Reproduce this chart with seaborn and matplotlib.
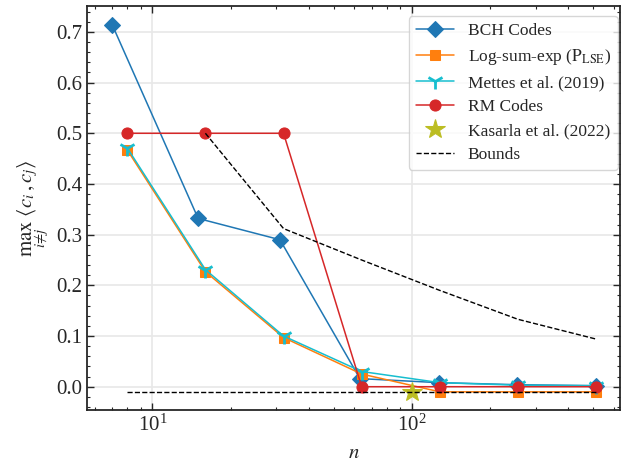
import matplotlib
matplotlib.use("Agg")
import matplotlib.pyplot as plt
import seaborn as sns
from matplotlib.ticker import AutoMinorLocator

# --- data ---
n_bch = [7, 15, 31, 63, 127, 255, 511]
bch = [0.714, 0.332, 0.290, 0.016, 0.008, 0.004, 0.002]

n_pow2 = [8, 16, 32, 64, 128, 256, 512]
lse = [0.467, 0.227, 0.097, 0.025, -0.0101, -0.0101, -0.0101]
mettes = [0.471, 0.231, 0.100, 0.030, 0.008, 0.003, 0.002]
rm = [0.5, 0.5, 0.5, 0.0, 0.0, 0.0, 0.0]

n_kasarla = [100]
kasarla = [-0.0101]

n_upper = [16, 32, 64, 128, 256, 512]
upper_bound = [0.5, 0.312, 0.25, 0.19, 0.133, 0.094]
n_lower = [8, 512]
lower_bound = [-0.0101, -0.0101]

sns.set_theme(style="ticks")
plt.rcParams["font.family"] = ["Liberation Serif", "DejaVu Serif"]
plt.rcParams["mathtext.fontset"] = "stix"
plt.rcParams["font.size"] = 14
plt.rcParams["xtick.direction"] = "in"
plt.rcParams["ytick.direction"] = "in"
plt.rcParams["xtick.top"] = True
plt.rcParams["ytick.right"] = True
plt.rcParams["xtick.minor.visible"] = True
plt.rcParams["ytick.minor.visible"] = True

fig, ax = plt.subplots(figsize=(6.22, 4.67), dpi=100)
fig.subplots_adjust(left=0.14, right=0.997, bottom=0.122, top=0.987)

lw = 1.1
sns.lineplot(x=n_bch, y=bch, marker="D", markersize=8, color="#1f77b4",
             markeredgecolor="#1f77b4", lw=lw, label="BCH Codes", ax=ax)
sns.lineplot(x=n_pow2, y=lse, marker="s", markersize=7, color="#ff7f0e",
             markeredgecolor="#ff7f0e", lw=lw,
             label=r"Log-sum-exp ($\mathrm{P}_{\mathrm{LSE}}$)", ax=ax)
sns.lineplot(x=n_pow2, y=mettes, marker="1", markersize=12, color="#17becf",
             markeredgecolor="#17becf", markeredgewidth=2, lw=lw,
             label="Mettes et al. (2019)", ax=ax)
sns.lineplot(x=n_pow2, y=rm, marker="o", markersize=8, color="#d62728",
             markeredgecolor="#d62728", lw=lw, label="RM Codes", ax=ax)
sns.lineplot(x=n_kasarla, y=kasarla, marker="*", markersize=15, color="#bcbd22",
             markeredgecolor="#bcbd22", lw=0, label="Kasarla et al. (2022)", ax=ax)
sns.lineplot(x=n_upper, y=upper_bound, color="black", ls="--", lw=1.0,
             label="Bounds", ax=ax)
sns.lineplot(x=n_lower, y=lower_bound, color="black", ls="--", lw=1.0, ax=ax)

ax.set_xscale("log")
ax.set_ylim(-0.046, 0.751)
ax.set_xlim(5.6, 634)
ax.yaxis.set_minor_locator(AutoMinorLocator(5))
ax.grid(True, which="major", color="#e8e8e8", lw=1.2)
ax.set_axisbelow(True)
ax.tick_params(which="major", length=5, width=1.0, labelsize=15)
ax.tick_params(which="minor", length=2.5, width=0.8)
for s in ax.spines.values():
    s.set_linewidth(1.3)

ax.set_xlabel(r"$n$", fontsize=15, labelpad=6)
ax.set_ylabel(r"$\max_{i\neq j}\ \langle c_i, c_j\rangle$", fontsize=15)

leg = ax.legend(loc="upper right", bbox_to_anchor=(1.0056, 0.988),
                fontsize=12.5, frameon=True, fancybox=True,
                framealpha=0.8, edgecolor="#cccccc", handlelength=2.2,
                labelspacing=0.45, borderaxespad=0.3)

fig.savefig("out.png", dpi=100)
